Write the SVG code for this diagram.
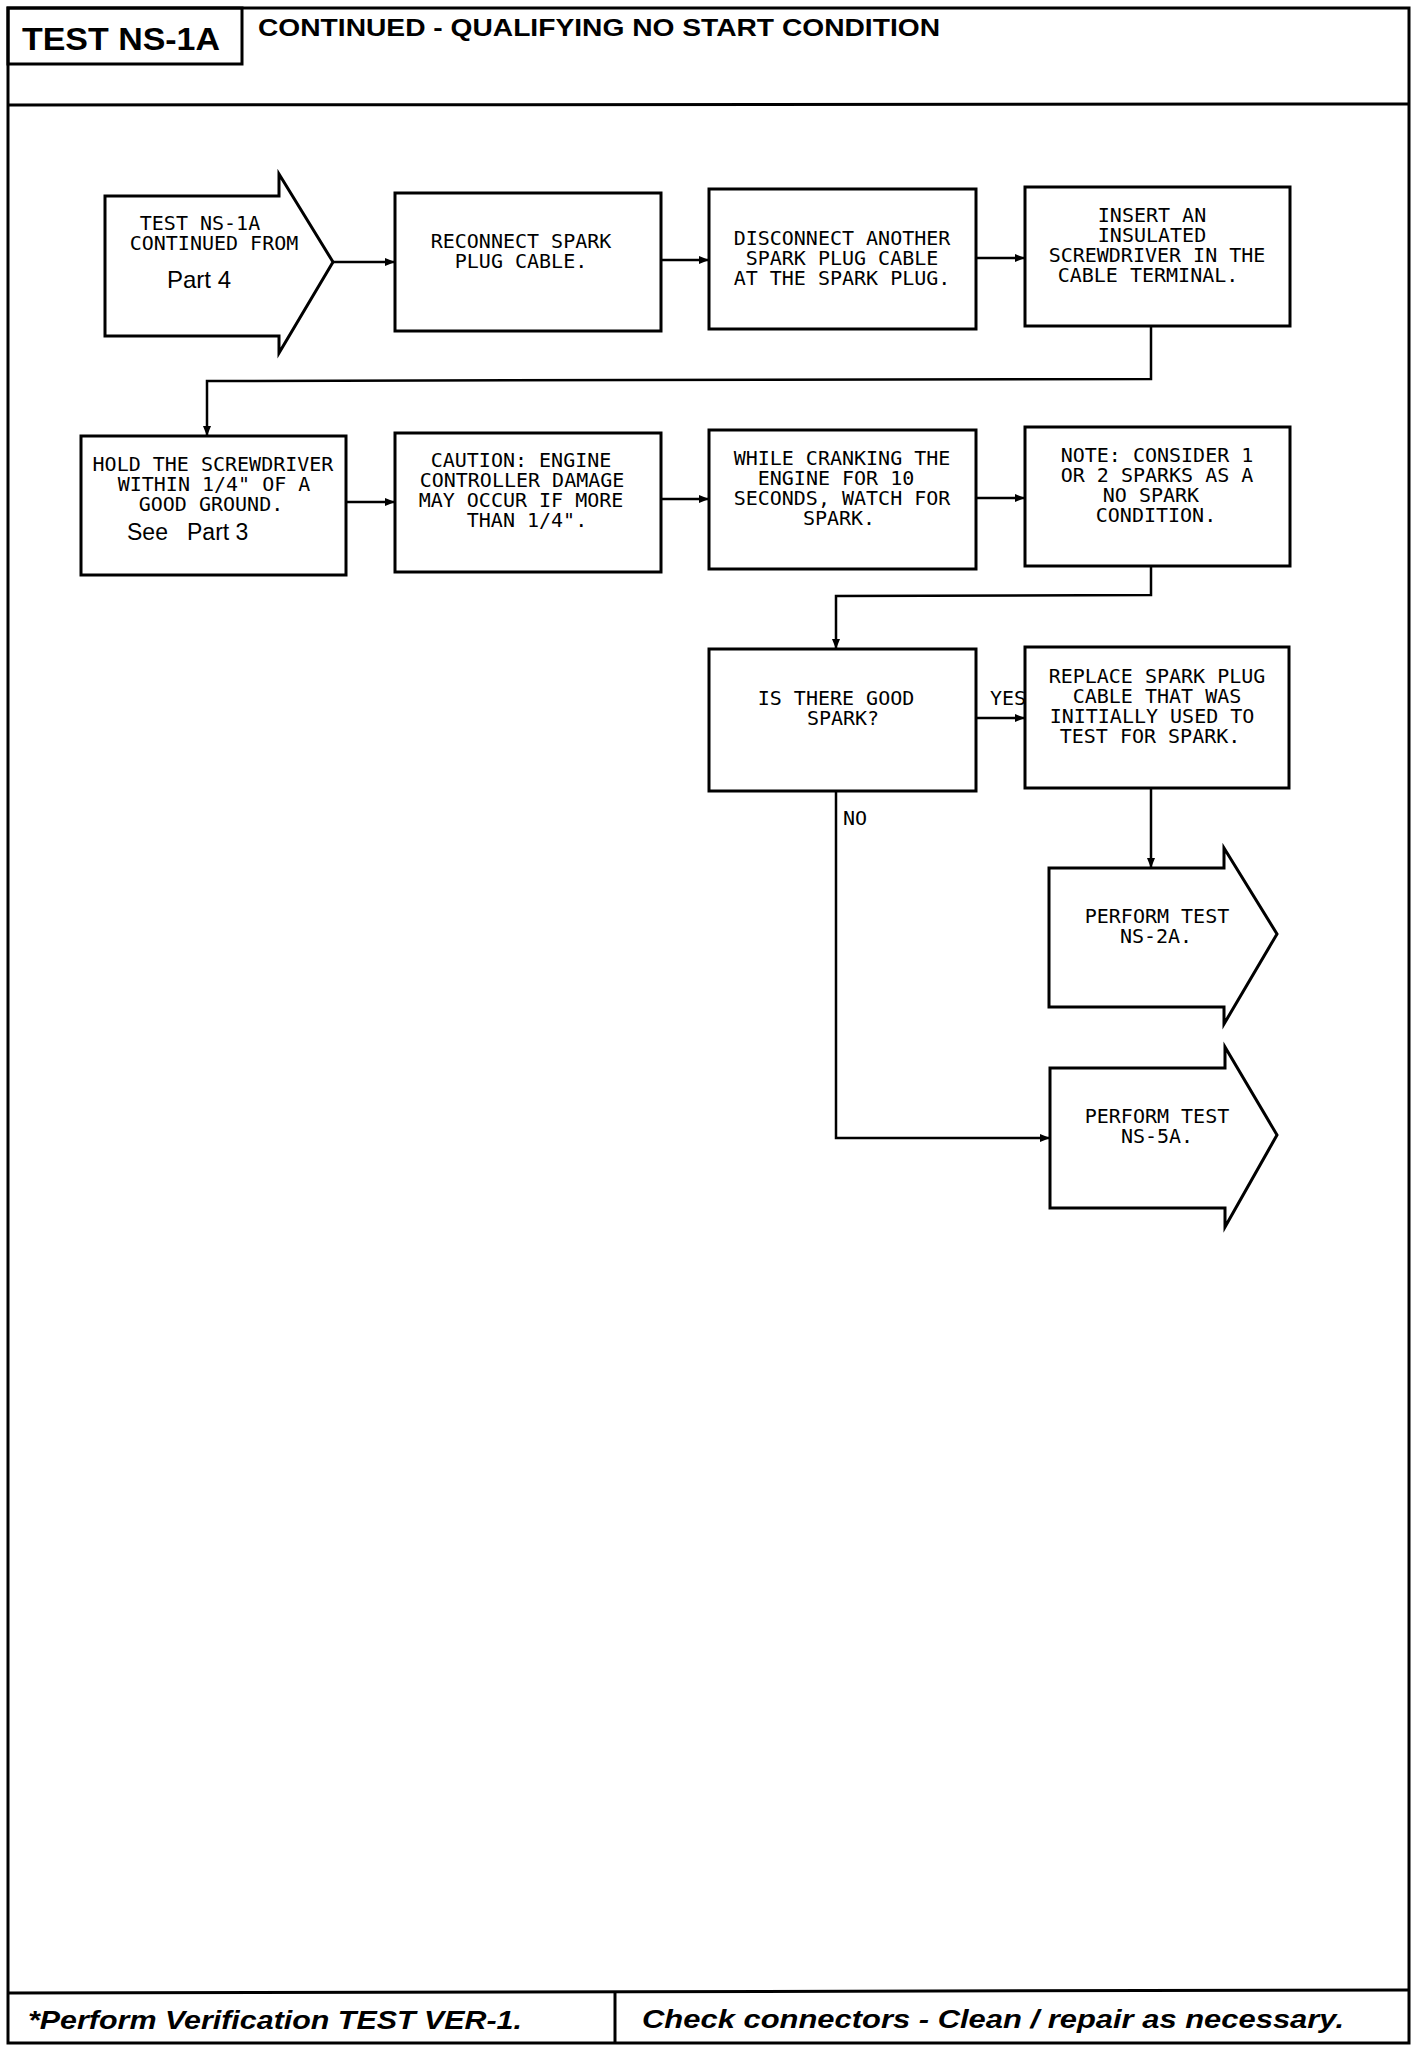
<svg xmlns="http://www.w3.org/2000/svg" width="1424" height="2046" viewBox="0 0 1424 2046">
<defs>
<style>
.frame{fill:none;stroke:#000;stroke-width:3}
.box{fill:#fff;stroke:#000;stroke-width:3;stroke-linejoin:miter}
.conn{fill:none;stroke:#000;stroke-width:2.5}
.t{font-family:"DejaVu Sans Mono","Liberation Mono",monospace;font-size:20px;fill:#000;text-anchor:middle}
.lbl{font-family:"DejaVu Sans Mono","Liberation Mono",monospace;font-size:20px;fill:#000}
.h{font-family:"Liberation Sans",Arial,sans-serif;fill:#000}
.hb{font-family:"Liberation Sans",Arial,sans-serif;font-weight:bold;fill:#000}
.fi{font-family:"Liberation Sans",Arial,sans-serif;font-weight:bold;font-style:italic;fill:#000;font-size:26px}
</style>
<marker id="ah" markerUnits="userSpaceOnUse" markerWidth="11" markerHeight="9" refX="10" refY="4" orient="auto">
<path d="M0,0 L10,4 L0,8 z" fill="#000"/>
</marker>
</defs>
<rect width="1424" height="2046" fill="#fff"/>
<g id="frame">
<rect class="frame" x="8" y="8" width="1401" height="2035"/>
<line class="frame" x1="8" y1="105" x2="1409" y2="104"/>
<rect class="frame" x="8" y="8" width="234" height="56"/>
<text class="hb" x="22" y="50" font-size="32" textLength="198" lengthAdjust="spacingAndGlyphs">TEST NS-1A</text>
<text class="hb" x="258" y="36" font-size="24" textLength="682" lengthAdjust="spacingAndGlyphs">CONTINUED - QUALIFYING NO START CONDITION</text>
<line class="frame" x1="8" y1="1993" x2="1409" y2="1990"/>
<line class="frame" x1="615" y1="1992" x2="615" y2="2043"/>
<text class="fi" x="28" y="2029" textLength="494" lengthAdjust="spacingAndGlyphs">*Perform Verification TEST VER-1.</text>
<text class="fi" x="642" y="2028" textLength="702" lengthAdjust="spacingAndGlyphs">Check connectors - Clean / repair as necessary.</text>
</g>
<g id="connectors">
<line class="conn" x1="333" y1="262" x2="395" y2="262" marker-end="url(#ah)"/>
<line class="conn" x1="661" y1="260" x2="709" y2="260" marker-end="url(#ah)"/>
<line class="conn" x1="976" y1="258" x2="1025" y2="258" marker-end="url(#ah)"/>
<polyline class="conn" points="1151,326 1151,379 207,381 207,436" marker-end="url(#ah)"/>
<line class="conn" x1="346" y1="502" x2="395" y2="502" marker-end="url(#ah)"/>
<line class="conn" x1="661" y1="499" x2="709" y2="499" marker-end="url(#ah)"/>
<line class="conn" x1="976" y1="498" x2="1025" y2="498" marker-end="url(#ah)"/>
<polyline class="conn" points="1151,566 1151,595 836,596 836,649" marker-end="url(#ah)"/>
<line class="conn" x1="976" y1="718" x2="1025" y2="718" marker-end="url(#ah)"/>
<polyline class="conn" points="836,791 836,1138 1050,1138" marker-end="url(#ah)"/>
<line class="conn" x1="1151" y1="788" x2="1151" y2="868" marker-end="url(#ah)"/>
<text class="lbl" x="990" y="705">YES</text>
<text class="lbl" x="843" y="825">NO</text>
</g>
<g id="n1">
<polygon class="box" points="105,196 279,196 279,174 333,262 279,353 279,336 105,336"/>
<text class="t" x="200" y="230">TEST NS-1A</text>
<text class="t" x="214" y="250">CONTINUED FROM</text>
<text class="h" x="167" y="288" font-size="24">Part 4</text>
</g>
<g id="n2">
<rect class="box" x="395" y="193" width="266" height="138"/>
<text class="t" x="521" y="248">RECONNECT SPARK</text>
<text class="t" x="521" y="268">PLUG CABLE.</text>
</g>
<g id="n3">
<rect class="box" x="709" y="189" width="267" height="140"/>
<text class="t" x="842" y="245">DISCONNECT ANOTHER</text>
<text class="t" x="842" y="265">SPARK PLUG CABLE</text>
<text class="t" x="842" y="285">AT THE SPARK PLUG.</text>
</g>
<g id="n4">
<rect class="box" x="1025" y="187" width="265" height="139"/>
<text class="t" x="1152" y="222">INSERT AN</text>
<text class="t" x="1152" y="242">INSULATED</text>
<text class="t" x="1157" y="262">SCREWDRIVER IN THE</text>
<text class="t" x="1148" y="282">CABLE TERMINAL.</text>
</g>
<g id="n5">
<rect class="box" x="81" y="436" width="265" height="139"/>
<text class="t" x="213" y="471">HOLD THE SCREWDRIVER</text>
<text class="t" x="214" y="491">WITHIN 1/4" OF A</text>
<text class="t" x="211" y="511">GOOD GROUND.</text>
<text class="h" x="127" y="540" font-size="23">See</text>
<text class="h" x="187" y="540" font-size="23">Part 3</text>
</g>
<g id="n6">
<rect class="box" x="395" y="433" width="266" height="139"/>
<text class="t" x="521" y="467">CAUTION: ENGINE</text>
<text class="t" x="522" y="487">CONTROLLER DAMAGE</text>
<text class="t" x="521" y="507">MAY OCCUR IF MORE</text>
<text class="t" x="527" y="527">THAN 1/4".</text>
</g>
<g id="n7">
<rect class="box" x="709" y="430" width="267" height="139"/>
<text class="t" x="842" y="465">WHILE CRANKING THE</text>
<text class="t" x="836" y="485">ENGINE FOR 10</text>
<text class="t" x="842" y="505">SECONDS, WATCH FOR</text>
<text class="t" x="839" y="525">SPARK.</text>
</g>
<g id="n8">
<rect class="box" x="1025" y="427" width="265" height="139"/>
<text class="t" x="1157" y="462">NOTE: CONSIDER 1</text>
<text class="t" x="1157" y="482">OR 2 SPARKS AS A</text>
<text class="t" x="1151" y="502">NO SPARK</text>
<text class="t" x="1156" y="522">CONDITION.</text>
</g>
<g id="n9">
<rect class="box" x="709" y="649" width="267" height="142"/>
<text class="t" x="836" y="705">IS THERE GOOD</text>
<text class="t" x="843" y="725">SPARK?</text>
</g>
<g id="n10">
<rect class="box" x="1025" y="647" width="264" height="141"/>
<text class="t" x="1157" y="683">REPLACE SPARK PLUG</text>
<text class="t" x="1157" y="703">CABLE THAT WAS</text>
<text class="t" x="1152" y="723">INITIALLY USED TO</text>
<text class="t" x="1150" y="743">TEST FOR SPARK.</text>
</g>
<g id="n11">
<polygon class="box" points="1049,868 1224,868 1224,848 1277,934 1224,1024 1224,1007 1049,1007"/>
<text class="t" x="1157" y="923">PERFORM TEST</text>
<text class="t" x="1156" y="943">NS-2A.</text>
</g>
<g id="n12">
<polygon class="box" points="1050,1068 1225,1068 1225,1047 1277,1135 1225,1227 1225,1208 1050,1208"/>
<text class="t" x="1157" y="1123">PERFORM TEST</text>
<text class="t" x="1157" y="1143">NS-5A.</text>
</g>
</svg>
